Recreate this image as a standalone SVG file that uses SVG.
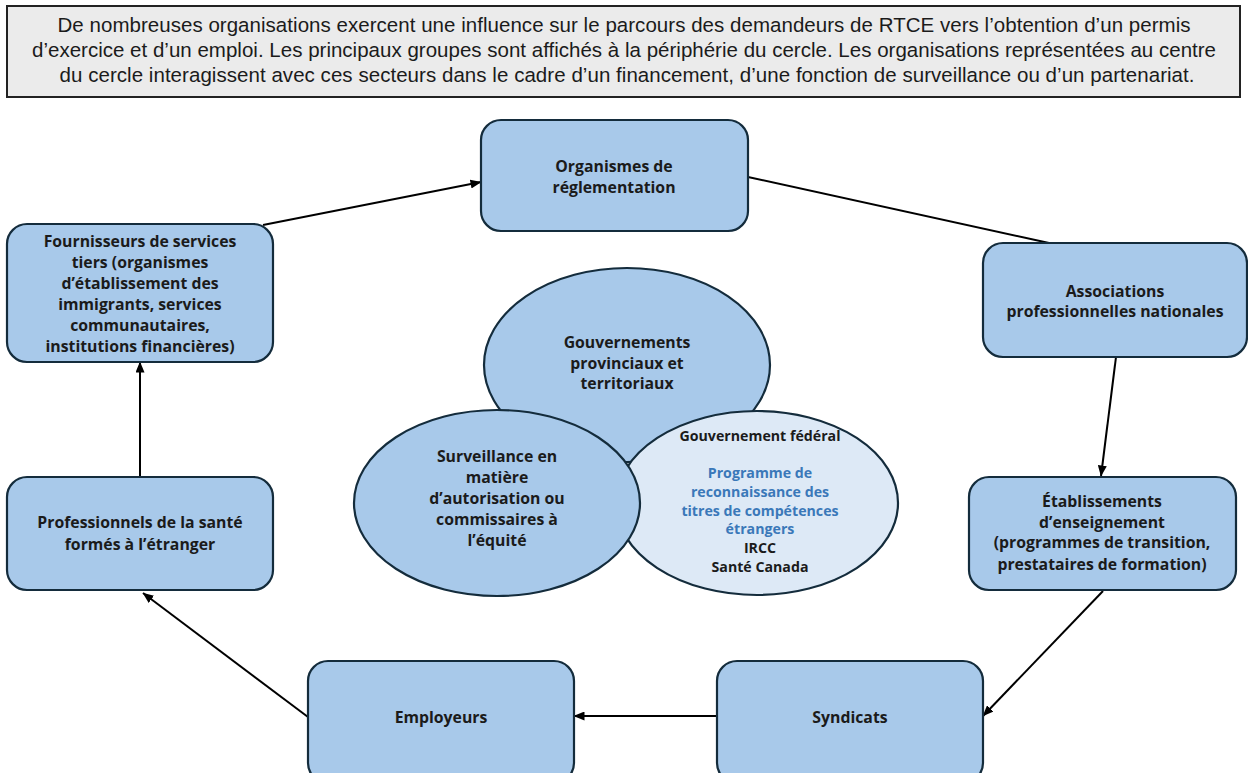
<svg xmlns="http://www.w3.org/2000/svg" width="1248" height="773" viewBox="0 0 1248 773">
<defs>
<marker id="arr" markerUnits="userSpaceOnUse" markerWidth="11" markerHeight="9" refX="10.5" refY="4.5" orient="auto">
<path d="M0,0 L11,4.5 L0,9 z" fill="#000"/>
</marker>
<style>
.box{fill:#a8c9ea;stroke:#142c3c;stroke-width:2.2}
.ell{fill:#a8c9ea;stroke:#142c3c;stroke-width:2.2}
.ell2{fill:#dde9f6;stroke:#142c3c;stroke-width:2.2}
.t{font-family:"Open Sans","Noto Sans",sans-serif;font-weight:700;font-size:15.8px;fill:#1b1b1b;text-anchor:middle}
.ts{font-family:"Open Sans","Noto Sans",sans-serif;font-weight:700;font-size:14.2px;fill:#1b1b1b;text-anchor:middle}
.tb{fill:#3a78b9}
.hd{font-family:"Liberation Sans",Arial,sans-serif;font-size:20.5px;fill:#1b1b1b;text-anchor:middle}
.c{stroke:#000;stroke-width:2;fill:none}
</style>
</defs>
<rect width="1248" height="773" fill="#fff"/>
<g id="header">
<rect x="7" y="6" width="1233" height="91" fill="#ebebeb" stroke="#222" stroke-width="2"/>
<text class="hd" x="624" y="32" textLength="1133">De nombreuses organisations exercent une influence sur le parcours des demandeurs de RTCE vers l’obtention d’un permis</text>
<text class="hd" x="624" y="57" textLength="1184">d’exercice et d’un emploi. Les principaux groupes sont affichés à la périphérie du cercle. Les organisations représentées au centre</text>
<text class="hd" x="627" y="82" textLength="1135">du cercle interagissent avec ces secteurs dans le cadre d’un financement, d’une fonction de surveillance ou d’un partenariat.</text>
</g>
<g id="connectors">
<line class="c" x1="263" y1="225" x2="481" y2="182" marker-end="url(#arr)"/>
<line class="c" x1="748" y1="177" x2="1049" y2="243"/>
<line class="c" x1="1116" y1="357" x2="1101" y2="476" marker-end="url(#arr)"/>
<line class="c" x1="1103" y1="591" x2="983" y2="716" marker-end="url(#arr)"/>
<line class="c" x1="716" y1="716" x2="574" y2="716" marker-end="url(#arr)"/>
<line class="c" x1="308" y1="717" x2="143" y2="593" marker-end="url(#arr)"/>
<line class="c" x1="140" y1="476" x2="140" y2="362" marker-end="url(#arr)"/>
</g>
<g id="organismes">
<rect class="box" x="481" y="120" width="267" height="111" rx="20"/>
<text class="t" x="614" y="172">Organismes de</text>
<text class="t" x="614" y="193">réglementation</text>
</g>
<g id="fournisseurs">
<rect class="box" x="7" y="224" width="266" height="138" rx="20"/>
<text class="t" x="140" y="247">Fournisseurs de services</text>
<text class="t" x="140" y="268">tiers (organismes</text>
<text class="t" x="140" y="289">d’établissement des</text>
<text class="t" x="140" y="310">immigrants, services</text>
<text class="t" x="140" y="331">communautaires,</text>
<text class="t" x="140" y="352">institutions financières)</text>
</g>
<g id="associations">
<rect class="box" x="983" y="243" width="264" height="114" rx="20"/>
<text class="t" x="1115" y="297">Associations</text>
<text class="t" x="1115" y="317">professionnelles nationales</text>
</g>
<g id="etablissements">
<rect class="box" x="969" y="477" width="267" height="113" rx="20"/>
<text class="t" x="1102" y="507">Établissements</text>
<text class="t" x="1102" y="528">d’enseignement</text>
<text class="t" x="1102" y="548">(programmes de transition,</text>
<text class="t" x="1102" y="570">prestataires de formation)</text>
</g>
<g id="syndicats">
<rect class="box" x="717" y="661" width="266" height="122" rx="20"/>
<text class="t" x="850" y="723">Syndicats</text>
</g>
<g id="employeurs">
<rect class="box" x="308" y="661" width="266" height="122" rx="20"/>
<text class="t" x="441" y="723">Employeurs</text>
</g>
<g id="professionnels">
<rect class="box" x="7" y="477" width="266" height="113" rx="20"/>
<text class="t" x="140" y="528">Professionnels de la santé</text>
<text class="t" x="140" y="550">formés à l’étranger</text>
</g>
<g id="gouv-provinciaux">
<ellipse class="ell" cx="627" cy="365" rx="143" ry="97"/>
<text class="t" x="627" y="348">Gouvernements</text>
<text class="t" x="627" y="369">provinciaux et</text>
<text class="t" x="627" y="389">territoriaux</text>
</g>
<g id="gouv-federal">
<ellipse class="ell2" cx="757" cy="503" rx="141" ry="92"/>
<text class="ts" x="760" y="441">Gouvernement fédéral</text>
<text class="ts tb" x="760" y="478">Programme de</text>
<text class="ts tb" x="760" y="497">reconnaissance des</text>
<text class="ts tb" x="760" y="516">titres de compétences</text>
<text class="ts tb" x="760" y="534">étrangers</text>
<text class="ts" x="760" y="553">IRCC</text>
<text class="ts" x="760" y="572">Santé Canada</text>
</g>
<g id="surveillance">
<ellipse class="ell" cx="497" cy="503" rx="143" ry="93"/>
<text class="t" x="497" y="462">Surveillance en</text>
<text class="t" x="497" y="483">matière</text>
<text class="t" x="497" y="504">d’autorisation ou</text>
<text class="t" x="497" y="525">commissaires à</text>
<text class="t" x="497" y="546">l’équité</text>
</g>
</svg>
